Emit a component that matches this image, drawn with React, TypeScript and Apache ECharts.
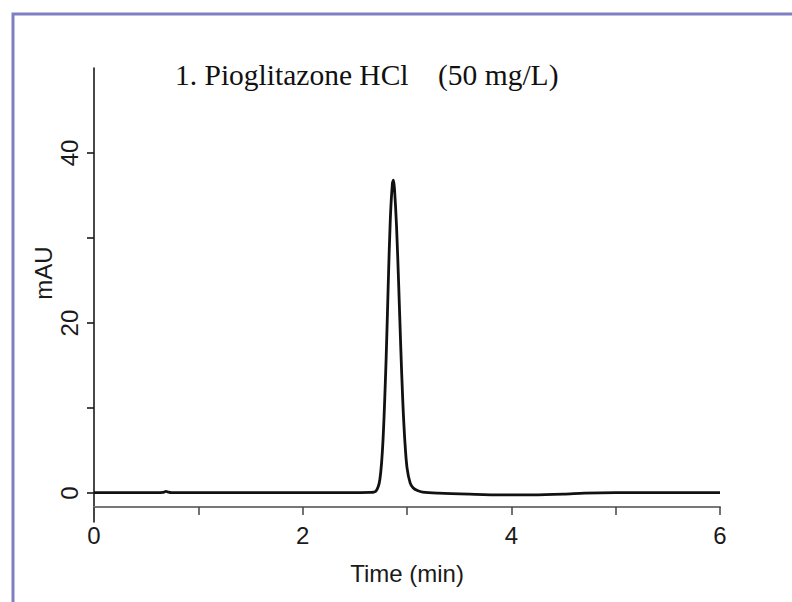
import React, { useEffect, useRef } from "react";
import * as echarts from "echarts";

const titleText = "1. Pioglitazone HCl    (50 mg/L)";
const xTickLabels = ["0", "", "2", "", "4", "", "6"];
const yTickValues = [0, 10, 20, 30, 40];
const yLabelValues = [0, 20, 40];

const times = [
  0, 0.3, 0.6, 0.66, 0.69, 0.71, 0.74, 0.8, 1.2, 1.8, 2.4, 2.65, 2.7, 2.74,
  2.77, 2.8, 2.82, 2.84, 2.86, 2.87, 2.88, 2.9, 2.92, 2.94, 2.96, 2.98, 3.0,
  3.03, 3.06, 3.1, 3.15, 3.3, 3.6, 3.9, 4.2, 4.5, 4.7, 5.0, 5.5, 6.0,
];
const signal = [
  0.05, 0.05, 0.05, 0.08, 0.2, 0.12, 0.05, 0.05, 0.05, 0.05, 0.05, 0.08, 0.2,
  1.6, 6.2, 15.8, 24.5, 32.2, 36.4, 36.8, 35.8, 31.3, 24.6, 17.2, 10.7, 6.0,
  3.0, 1.2, 0.6, 0.3, 0.12, 0.0, -0.12, -0.2, -0.2, -0.12, 0.0, 0.05, 0.05,
  0.05,
];

const sans = "'Liberation Sans', Arial, sans-serif";
const serif = "'Liberation Serif', 'Times New Roman', serif";

export default function App() {
  const ref = useRef<HTMLDivElement>(null);
  useEffect(() => {
    if (!ref.current) return;
    const chart = echarts.init(ref.current, undefined, { renderer: "svg" });
    const data = times.map((t, i) => [t, signal[i]]);
    chart.setOption({
      animation: false,
      backgroundColor: "#ffffff",
      title: {
        text: titleText,
        left: 175,
        top: 60,
        padding: 0,
        textStyle: {
          fontFamily: serif,
          fontSize: 29.5,
          fontWeight: "normal",
          color: "#111",
        },
      },
      grid: [
        { left: 94, right: 72, top: 68, bottom: 80 },
        { left: 94, right: 72, top: 300, bottom: 95 },
      ],
      xAxis: [
        { gridIndex: 0, type: "value", min: 0, max: 6, show: false },
        {
          gridIndex: 1,
          type: "value",
          min: 0,
          max: 6,
          interval: 1,
          name: "Time (min)",
          nameLocation: "middle",
          nameGap: 54,
          nameTextStyle: { fontFamily: sans, fontSize: 24, color: "#1a1a1a" },
          axisLine: { show: true, lineStyle: { color: "#777", width: 2 } },
          axisTick: { show: true, length: 8, lineStyle: { color: "#444", width: 1.5 } },
          splitLine: { show: false },
          axisLabel: {
            fontFamily: sans,
            fontSize: 24,
            color: "#1a1a1a",
            margin: 16,
            formatter: (v: number) => xTickLabels[Math.round(v)] ?? "",
          },
        },
      ],
      yAxis: [
        {
          gridIndex: 0,
          type: "value",
          min: -3.4,
          max: 50,
          axisLine: { show: true, lineStyle: { color: "#1a1a1a", width: 1.6 } },
          axisTick: {
            show: true,
            length: 7,
            customValues: yTickValues,
            lineStyle: { color: "#1a1a1a", width: 1.6 },
          },
          splitLine: { show: false },
          axisLabel: {
            customValues: yLabelValues,
            rotate: 90,
            fontFamily: sans,
            fontSize: 24,
            color: "#1a1a1a",
            margin: 13,
          },
        },
        { gridIndex: 1, type: "value", show: false },
      ],
      graphic: [
        {
          type: "rect",
          shape: { x: 13, y: 14, width: 820, height: 620 },
          style: { fill: "none", stroke: "#7e80c2", lineWidth: 3 },
          silent: true,
        },
        {
          type: "text",
          x: 43,
          y: 273,
          rotation: Math.PI / 2,
          style: {
            text: "mAU",
            fontFamily: sans,
            fontSize: 24,
            fill: "#1a1a1a",
            align: "center",
            verticalAlign: "middle",
          },
        },
      ],
      series: [
        {
          type: "line",
          xAxisIndex: 0,
          yAxisIndex: 0,
          data,
          showSymbol: false,
          smooth: 0.3,
          lineStyle: { color: "#111", width: 2.8 },
        },
      ],
    });
    return () => chart.dispose();
  }, []);
  return (
    <div
      ref={ref}
      style={{ position: "fixed", left: 0, top: 0, width: 792, height: 602 }}
    />
  );
}
